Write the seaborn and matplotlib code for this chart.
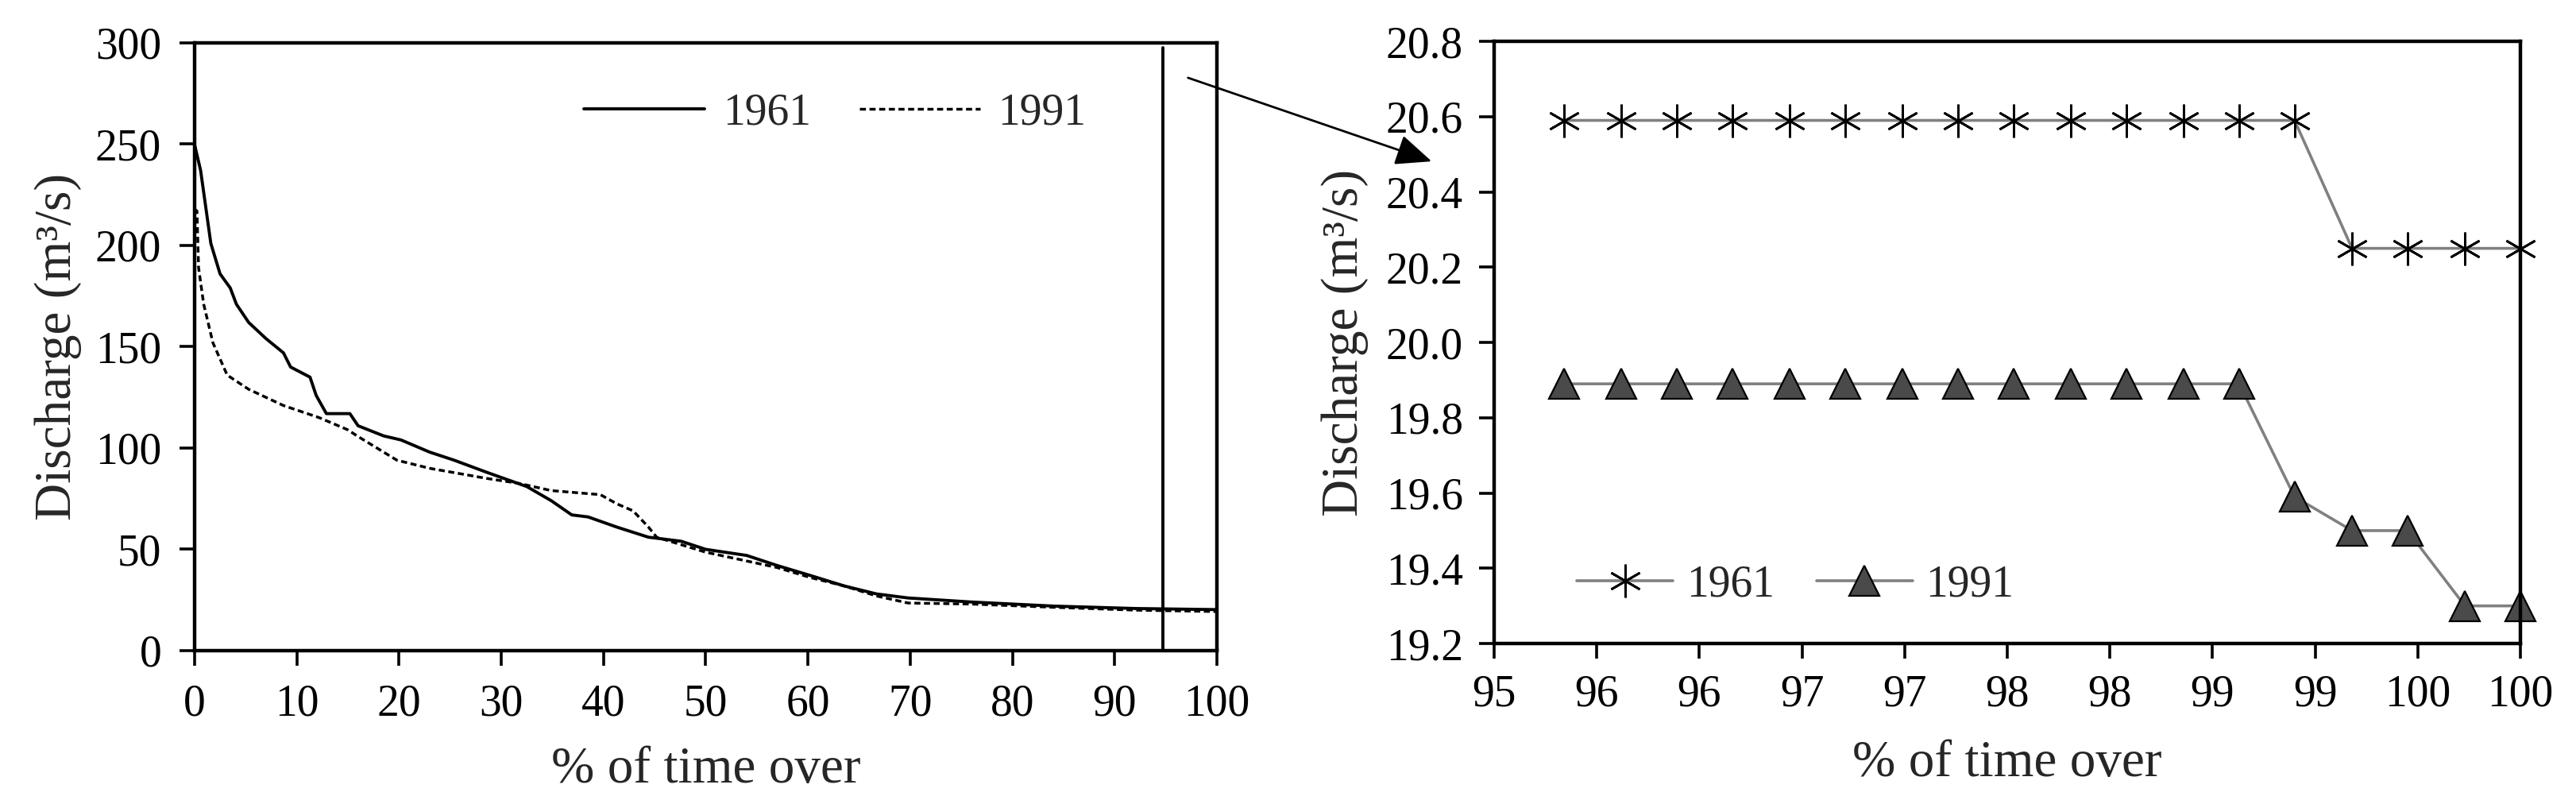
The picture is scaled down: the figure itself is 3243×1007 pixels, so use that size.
import matplotlib
matplotlib.use("Agg")
import matplotlib.pyplot as plt
import seaborn as sns

# flow duration curves
pct_1961 = [0, 0.6, 1.1, 1.6, 2.5, 3.5, 4.1, 5.3, 7.0, 8.7, 9.4, 11.3, 11.9, 12.9, 15.2, 16.0,
            18.5, 20.2, 23, 25.4, 28.6, 32.5, 34.9, 36.9, 38.5, 41.3, 44.4, 47.6, 50, 54, 57,
            60.3, 63.5, 66.7, 69.8, 76, 84, 92, 100]
q_1961 = [250, 237, 219, 201, 186, 179, 171, 162, 154, 147, 140, 135, 126, 117, 117, 111,
          106, 104, 98, 94, 88, 81, 74, 67, 66, 61, 56, 54, 50, 47, 42,
          37, 32, 28, 26, 24, 22, 20.8, 20.25]
pct_1991 = [0, 0.24, 0.4, 0.9, 1.8, 3.2, 5.3, 8.7, 12.2, 15, 15.9, 19.8, 23, 28.6, 31.7, 34.9,
            39.7, 41.3, 42.9, 44.4, 45.2, 50, 57, 60.3, 63.5, 66.7, 69.8, 76, 84, 92, 100]
q_1991 = [218, 217, 189, 171, 152, 136, 129, 121, 115, 109, 106, 94, 90, 85, 82.6, 79,
          77, 72.5, 69, 61, 56, 48.6, 41, 36, 32, 27, 23.5, 23, 21.4, 20.0, 19.3]

# zoom on the last 18 days of the year
pct_zoom = [95.34, 95.62, 95.89, 96.16, 96.44, 96.71, 96.99, 97.26, 97.53, 97.81, 98.08,
            98.36, 98.63, 98.90, 99.18, 99.45, 99.73, 100.0]
zoom_1961 = [20.59] * 14 + [20.25] * 4
zoom_1991 = [19.89] * 13 + [19.59, 19.5, 19.5, 19.3, 19.3]

left_xticks = list(range(0, 101, 10))
left_yticks = list(range(0, 301, 50))
right_xticks = [95, 95.5, 96, 96.5, 97, 97.5, 98, 98.5, 99, 99.5, 100]
right_xlabels = ['95', '96', '96', '97', '97', '98', '98', '99', '99', '100', '100']
right_yticks = [19.2, 19.4, 19.6, 19.8, 20.0, 20.2, 20.4, 20.6, 20.8]
cut_pct = 94.7

sns.set_style("ticks")
plt.rcParams['font.family'] = ['Liberation Serif', 'DejaVu Serif']
plt.rcParams['axes.linewidth'] = 3.2
plt.rcParams['xtick.major.width'] = 2.6
plt.rcParams['ytick.major.width'] = 2.6
plt.rcParams['xtick.major.size'] = 14
plt.rcParams['ytick.major.size'] = 14
plt.rcParams['axes.edgecolor'] = 'black'

tick_fs = 40
label_fs = 47

fig = plt.figure(figsize=(32.43, 10.07), dpi=100)
ax1 = fig.add_axes([0.0755, 0.1867, 0.3969, 0.7597])
ax2 = fig.add_axes([0.5800, 0.1956, 0.3984, 0.7527])

# left panel
sns.lineplot(x=pct_1961, y=q_1961, ax=ax1, color='black', lw=2.8, label='1961', sort=False)
sns.lineplot(x=pct_1991, y=q_1991, ax=ax1, color='black', lw=2.5,
             linestyle=(0, (2.2, 1.3)), label='1991', sort=False)
ax1.plot([cut_pct, cut_pct], [0, 297.5], color='black', lw=2.8)
ax1.set_xlim(0, 100)
ax1.set_ylim(0, 300)
ax1.set_xticks(left_xticks)
ax1.set_yticks(left_yticks)
ax1.tick_params(labelsize=tick_fs, colors='black', pad=16)
ax1.set_xlabel('% of time over', fontsize=label_fs, labelpad=19)
ax1.set_ylabel('Discharge (m³/s)', fontsize=label_fs, labelpad=12)
ax1.legend(loc='center left', bbox_to_anchor=(0.381, 0.884), frameon=False, ncol=2,
           fontsize=tick_fs, handlelength=2.74, handletextpad=0.4, columnspacing=1.1,
           borderpad=0, borderaxespad=0)

# right panel
sns.lineplot(x=pct_zoom, y=zoom_1961, ax=ax2, color='#808080', lw=2.6, label='1961',
             marker=(6, 2, 0), markersize=30, markeredgecolor='black',
             markerfacecolor='black', markeredgewidth=2.0, clip_on=False)
sns.lineplot(x=pct_zoom, y=zoom_1991, ax=ax2, color='#808080', lw=2.6, label='1991',
             marker='^', markersize=28, markeredgecolor='black',
             markerfacecolor='#4a4a4a', markeredgewidth=1.6, clip_on=False)
ax2.set_xlim(95, 100)
ax2.set_ylim(19.2, 20.8)
ax2.set_xticks(right_xticks)
ax2.set_xticklabels(right_xlabels)
ax2.set_yticks(right_yticks)
ax2.set_yticklabels(['%.1f' % v for v in right_yticks])
ax2.tick_params(labelsize=tick_fs, colors='black', pad=14)
ax2.set_xlabel('% of time over', fontsize=label_fs, labelpad=22)
ax2.set_ylabel('Discharge (m³/s)', fontsize=label_fs, labelpad=16)
ax2.legend(loc='center left', bbox_to_anchor=(0.0805, 0.0976), frameon=False, ncol=2,
           fontsize=tick_fs, handlelength=2.18, handletextpad=0.3, columnspacing=0.95,
           borderpad=0, borderaxespad=0)

for ax in (ax1, ax2):
    for s in ax.spines.values():
        s.set_visible(True)
        s.set_color('black')
    ax.grid(False)

# arrow from the cut line to the zoomed panel
ax1.annotate('', xy=(1805, 803), xycoords='figure pixels',
             xytext=(1493, 910), textcoords='figure pixels',
             arrowprops=dict(arrowstyle='-|>,head_length=0.7,head_width=0.3',
                             mutation_scale=40, color='black', lw=2.0),
             annotation_clip=False)

fig.savefig('out.png', dpi=100)
